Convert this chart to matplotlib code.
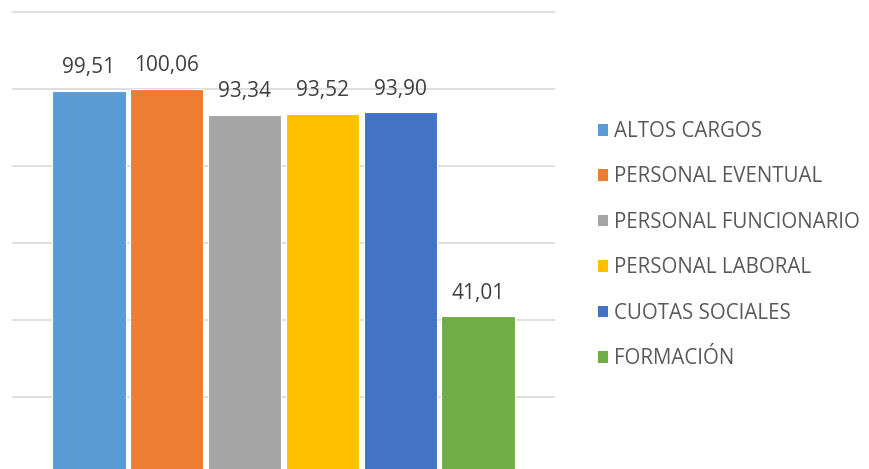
import matplotlib.pyplot as plt
from matplotlib.patches import Patch

# Datos del grafico
categorias = ["ALTOS CARGOS", "PERSONAL EVENTUAL", "PERSONAL FUNCIONARIO",
              "PERSONAL LABORAL", "CUOTAS SOCIALES", "FORMACIÓN"]
valores = [99.51, 100.06, 93.34, 93.52, 93.90, 41.01]
etiquetas = ["99,51", "100,06", "93,34", "93,52", "93,90", "41,01"]
colores = ["#5B9BD5", "#ED7D31", "#A5A5A5", "#FFC000", "#4472C4", "#70AD47"]

plt.rcParams['font.family'] = ['Open Sans', 'DejaVu Sans']

fig = plt.figure(figsize=(8.7, 4.69), dpi=100)
ax = fig.add_axes([12/870, 0, (555-12)/870, 1])

x = range(len(valores))
bars = ax.bar(x, valores, width=0.94, color=colores, edgecolor='white', linewidth=0.8, zorder=2)

for b, txt in zip(bars, etiquetas):
    ax.annotate(txt, (b.get_x() + b.get_width()/2, b.get_height()),
                xytext=(0, 9), textcoords='offset points',
                ha='center', va='bottom', fontsize=15, color='#404040', zorder=3)

ax.set_ylim(1.3, 123.1)
ax.set_xlim(-0.99, 5.99)
ax.set_yticks([20, 40, 60, 80, 100, 120])
ax.yaxis.grid(True, color='#D9D9D9', linewidth=1.2, zorder=0)
ax.set_axisbelow(True)
ax.tick_params(left=False, bottom=False, labelleft=False, labelbottom=False)
for s in ax.spines.values():
    s.set_visible(False)

handles = [Patch(facecolor=c, edgecolor='none') for c in colores]
fig.legend(handles, categorias, loc='upper left', bbox_to_anchor=(598/870, 1 - 121/469),
           frameon=False, fontsize=14.8, labelcolor='#595959',
           handlelength=0.5, handleheight=0.5, handletextpad=0.3, labelspacing=1.19,
           borderpad=0, borderaxespad=0)

fig.savefig('out.png', dpi=100)
